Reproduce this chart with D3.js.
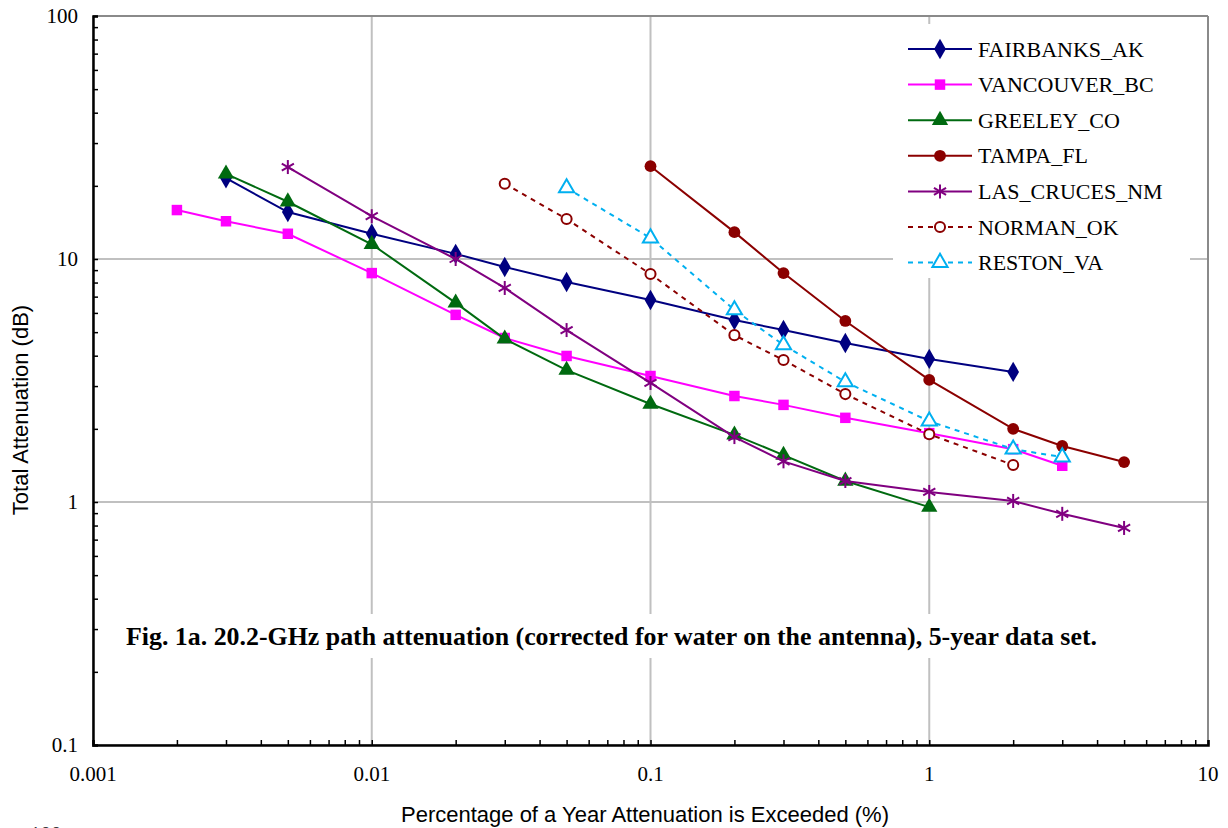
<!DOCTYPE html>
<html>
<head>
<meta charset="utf-8">
<script src="https://cdn.jsdelivr.net/npm/d3@7"></script>
<style>
  body { margin: 0; background: #fff; }
  svg { display: block; }
</style>
</head>
<body>
<svg id="chart" width="1228" height="828"></svg>
<script>
// x values (% of year) and attenuation (dB) per site
const fairbanksX = [0.003, 0.005, 0.01, 0.02, 0.03, 0.05, 0.1, 0.2, 0.3, 0.5, 1, 2];
const fairbanksY = [21.5, 15.6, 12.7, 10.5, 9.27, 8.04, 6.78, 5.61, 5.1, 4.51, 3.88, 3.43];

const vancouverX = [0.002, 0.003, 0.005, 0.01, 0.02, 0.03, 0.05, 0.1, 0.2, 0.3, 0.5, 1, 2, 3];
const vancouverY = [15.9, 14.3, 12.7, 8.75, 5.89, 4.73, 3.99, 3.3, 2.73, 2.51, 2.22, 1.92, 1.65, 1.41];

const greeleyX = [0.003, 0.005, 0.01, 0.02, 0.03, 0.05, 0.1, 0.2, 0.3, 0.5, 1];
const greeleyY = [22.4, 17.2, 11.5, 6.6, 4.69, 3.49, 2.53, 1.89, 1.56, 1.22, 0.953];

const tampaX = [0.1, 0.2, 0.3, 0.5, 1, 2, 3, 5];
const tampaY = [24.1, 12.9, 8.75, 5.56, 3.18, 2.0, 1.70, 1.46];

const lasCrucesX = [0.005, 0.01, 0.02, 0.03, 0.05, 0.1, 0.2, 0.3, 0.5, 1, 2, 3, 5];
const lasCrucesY = [23.9, 15.0, 10.0, 7.6, 5.1, 3.09, 1.85, 1.47, 1.22, 1.10, 1.01, 0.894, 0.782];

const normanX = [0.03, 0.05, 0.1, 0.2, 0.3, 0.5, 1, 2];
const normanY = [20.4, 14.6, 8.67, 4.86, 3.84, 2.78, 1.9, 1.42];

const restonX = [0.05, 0.1, 0.2, 0.3, 0.5, 1, 2, 3];
const restonY = [19.6, 12.2, 6.17, 4.43, 3.12, 2.15, 1.65, 1.53];

const xTickLabels = ["0.001", "0.01", "0.1", "1", "10"];
const yTickLabels = ["0.1", "1", "10", "100"];

const series = [
  { name: "FAIRBANKS_AK", xs: fairbanksX, ys: fairbanksY, color: "#000080", marker: "diamond", dash: null },
  { name: "VANCOUVER_BC", xs: vancouverX, ys: vancouverY, color: "#ff00ff", marker: "square", dash: null },
  { name: "GREELEY_CO", xs: greeleyX, ys: greeleyY, color: "#006a10", marker: "triangle", dash: null },
  { name: "TAMPA_FL", xs: tampaX, ys: tampaY, color: "#8b0000", marker: "circle", dash: null },
  { name: "LAS_CRUCES_NM", xs: lasCrucesX, ys: lasCrucesY, color: "#800080", marker: "star", dash: null },
  { name: "NORMAN_OK", xs: normanX, ys: normanY, color: "#8b0000", marker: "opencircle", dash: "5,5" },
  { name: "RESTON_VA", xs: restonX, ys: restonY, color: "#00b0f0", marker: "opentriangle", dash: "5,5" }
];

const serif = "'Liberation Serif', 'Times New Roman', Times, serif";
const sans = "'Liberation Sans', Arial, Helvetica, sans-serif";

const svg = d3.select("#chart");
const plotL = 93, plotR = 1208, plotT = 16, plotB = 745;

const x = d3.scaleLog().domain([0.001, 10]).range([plotL, plotR]);
const y = d3.scaleLog().domain([0.1, 100]).range([plotB, plotT]);

// gridlines
const grid = svg.append("g").attr("stroke", "#c0c0c0").attr("stroke-width", 2);
xTickLabels.forEach(t => {
  grid.append("line").attr("x1", x(+t)).attr("x2", x(+t)).attr("y1", plotT).attr("y2", plotB);
});
yTickLabels.forEach(t => {
  grid.append("line").attr("x1", plotL).attr("x2", plotR).attr("y1", y(+t)).attr("y2", y(+t));
});
svg.append("line").attr("x1", plotL).attr("x2", plotR).attr("y1", plotT).attr("y2", plotT)
  .attr("stroke", "#8a8a8a").attr("stroke-width", 2);
svg.append("line").attr("x1", plotR).attr("x2", plotR).attr("y1", plotT).attr("y2", plotB)
  .attr("stroke", "#8a8a8a").attr("stroke-width", 2);

// white boxes behind caption and legend
svg.append("rect").attr("x", 120).attr("y", 614).attr("width", 985).attr("height", 44).attr("fill", "#fff");
svg.append("rect").attr("x", 893).attr("y", 24).attr("width", 297).attr("height", 254).attr("fill", "#fff");

// axes
const minorX = [];
for (let e = -3; e < 1; e++) for (let m = 1; m <= 9; m++) minorX.push(m * Math.pow(10, e));
minorX.push(10);
const minorY = [];
for (let e = -1; e < 2; e++) for (let m = 1; m <= 9; m++) minorY.push(m * Math.pow(10, e));
minorY.push(100);

const xAxis = svg.append("g").attr("transform", `translate(0,${plotB})`)
  .call(d3.axisBottom(x).tickValues(minorX).tickSize(-5).tickFormat(""));
const yAxis = svg.append("g").attr("transform", `translate(${plotL},0)`)
  .call(d3.axisLeft(y).tickValues(minorY).tickSize(-5).tickFormat(""));
[xAxis, yAxis].forEach(a => {
  a.select(".domain").attr("stroke", "#000").attr("stroke-width", 2.5);
  a.selectAll(".tick line").attr("stroke", "#000").attr("stroke-width", 1.5);
});

svg.selectAll(".xlab").data(xTickLabels).enter().append("text")
  .attr("x", d => x(+d)).attr("y", 781)
  .attr("text-anchor", "middle")
  .style("font-family", serif).style("font-size", "21px")
  .text(d => d);
svg.selectAll(".ylab").data(yTickLabels).enter().append("text")
  .attr("x", 78).attr("y", d => y(+d) + 7)
  .attr("text-anchor", "end")
  .style("font-family", serif).style("font-size", "21px")
  .text(d => d);

svg.append("text").attr("x", 645).attr("y", 822).attr("text-anchor", "middle")
  .style("font-family", sans).style("font-size", "22px")
  .text("Percentage of a Year Attenuation is Exceeded (%)");
svg.append("text").attr("transform", "translate(28,410) rotate(-90)").attr("text-anchor", "middle")
  .style("font-family", sans).style("font-size", "22px")
  .text("Total Attenuation (dB)");

svg.append("text").attr("x", 126).attr("y", 645)
  .attr("textLength", 971).attr("lengthAdjust", "spacingAndGlyphs")
  .style("font-family", serif).style("font-size", "26px")
  .style("font-weight", "bold")
  .text("Fig. 1a.  20.2-GHz path attenuation (corrected for water on the antenna), 5-year data set.");

// partial label of the next figure, cut by the bottom edge
svg.append("text").attr("x", 30).attr("y", 841)
  .style("font-family", serif).style("font-size", "21px")
  .text("100");

function drawMarker(g, type, color) {
  const sym = {
    diamond: d3.symbol().type(d3.symbolDiamond).size(120),
    square: d3.symbol().type(d3.symbolSquare).size(110),
    triangle: d3.symbol().type(d3.symbolTriangle).size(115),
    circle: d3.symbol().type(d3.symbolCircle).size(110),
    opencircle: d3.symbol().type(d3.symbolCircle).size(80),
    opentriangle: d3.symbol().type(d3.symbolTriangle).size(100)
  };
  if (type === "star") {
    const r = 7;
    [0, 60, 120].forEach(a => {
      const rad = a * Math.PI / 180;
      g.append("line")
        .attr("x1", -r * Math.sin(rad)).attr("y1", -r * Math.cos(rad))
        .attr("x2", r * Math.sin(rad)).attr("y2", r * Math.cos(rad))
        .attr("stroke", color).attr("stroke-width", 2);
    });
    return;
  }
  const p = g.append("path").attr("d", sym[type]());
  if (type.startsWith("open")) {
    p.attr("fill", "#fff").attr("stroke", color).attr("stroke-width", 2);
  } else {
    p.attr("fill", color);
  }
}

const line = d3.line().x(d => x(d[0])).y(d => y(d[1]));

series.forEach(s => {
  const pts = s.xs.map((v, i) => [v, s.ys[i]]);
  svg.append("path").datum(pts).attr("d", line)
    .attr("fill", "none").attr("stroke", s.color).attr("stroke-width", 2)
    .attr("stroke-dasharray", s.dash);
  pts.forEach(p => {
    const g = svg.append("g").attr("transform", `translate(${x(p[0])},${y(p[1])})`);
    drawMarker(g, s.marker, s.color);
  });
});

// legend
series.forEach((s, i) => {
  const ly = 49 + i * 35.6;
  const lg = svg.append("g");
  lg.append("line").attr("x1", 908).attr("x2", 972).attr("y1", ly).attr("y2", ly)
    .attr("stroke", s.color).attr("stroke-width", 2).attr("stroke-dasharray", s.dash);
  const mg = lg.append("g").attr("transform", `translate(940,${ly})`);
  drawMarker(mg, s.marker, s.color);
  lg.append("text").attr("x", 978).attr("y", ly + 7.5)
    .style("font-family", serif).style("font-size", "22px")
    .text(s.name);
});
</script>
</body>
</html>
